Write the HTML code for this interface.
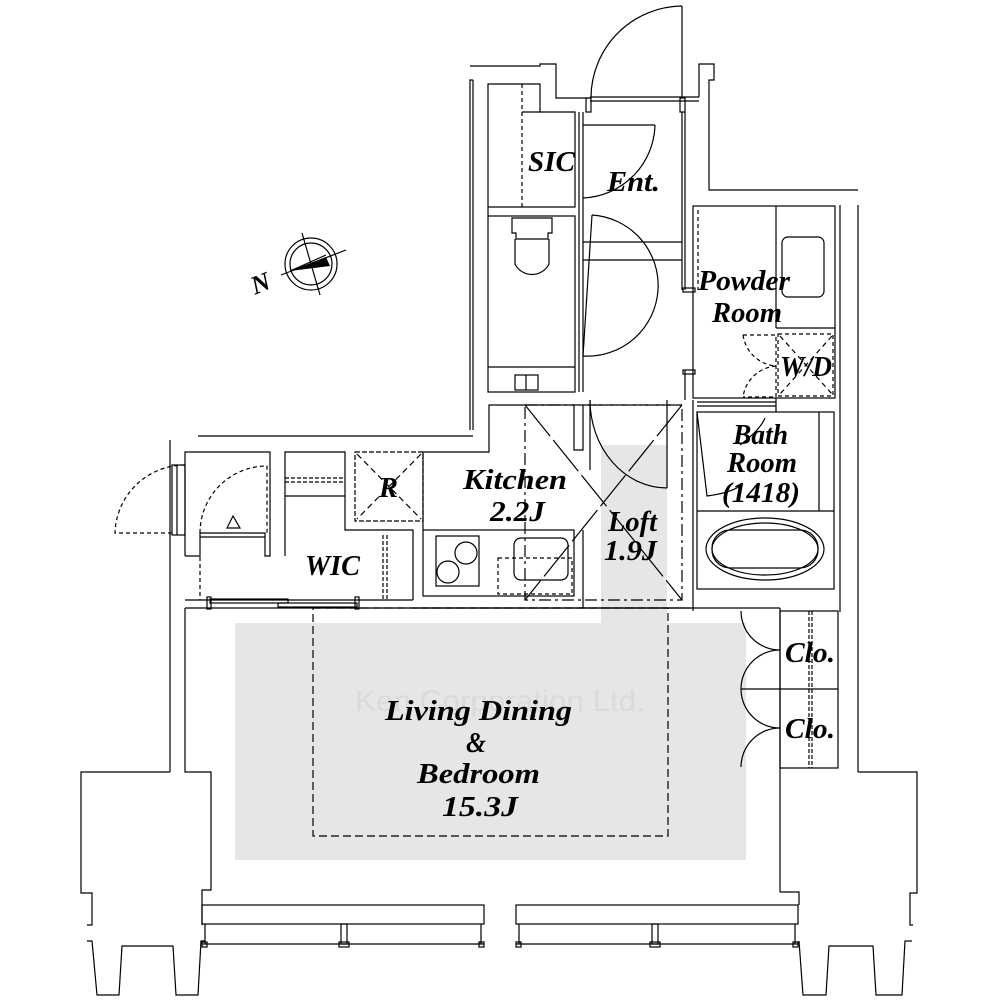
<!DOCTYPE html>
<html><head><meta charset="utf-8"><style>
html,body{margin:0;padding:0;background:#fff;width:1000px;height:1000px;overflow:hidden}
svg{display:block}
text{font-family:"Liberation Serif",serif;font-weight:bold;font-style:italic;fill:#000}
</style></head><body>
<svg width="1000" height="1000" viewBox="0 0 1000 1000" xmlns="http://www.w3.org/2000/svg">
<rect x="235" y="623" width="511" height="237" fill="#e6e6e6"/>
<rect x="601" y="445" width="66" height="180" fill="#e6e6e6"/>
<g fill="none" stroke="#000" stroke-width="1.2">
<polyline points="470,66 540,66 540,64 556,64 556,98 590,98"/>
<line x1="590" y1="97" x2="699" y2="97"/>
<line x1="590" y1="101" x2="699" y2="101"/>
<rect x="586" y="98" width="5" height="14"/><rect x="680" y="98" width="5" height="14"/>
<line x1="682" y1="6" x2="682" y2="97"/>
<path d="M591,97 A92,92 0 0 1 682,6"/>
<polyline points="699,97 699,64 714,64 714,80 709,80 709,190 858,190"/>
<polyline points="473,80 470,80 470,430"/>
<line x1="473" y1="80" x2="473" y2="430"/>
<line x1="858" y1="205" x2="858" y2="772"/>
<line x1="840" y1="205" x2="840" y2="612"/>
<polyline points="488,216 488,84 540,84 540,112 575,112 575,207 488,207"/>
<line x1="522" y1="84" x2="522" y2="207" stroke-dasharray="4,3"/>
<line x1="522" y1="112" x2="540" y2="112"/>
<line x1="583" y1="112" x2="583" y2="392"/>
<line x1="579" y1="112" x2="579" y2="392"/>
<line x1="682" y1="112" x2="682" y2="290"/>
<line x1="685" y1="112" x2="685" y2="290"/>
<line x1="685" y1="370" x2="685" y2="400"/>
<line x1="583" y1="125" x2="655" y2="125"/>
<path d="M655,125 A75,75 0 0 1 583,198"/>
<line x1="583" y1="242" x2="682" y2="242"/>
<line x1="583" y1="260" x2="682" y2="260"/>
<line x1="592" y1="215" x2="583" y2="356"/>
<path d="M592,215 A70,70 0 0 1 583,356"/>
<rect x="488" y="216" width="87" height="176"/>
<line x1="488" y1="367" x2="575" y2="367"/>
<rect x="515" y="375" width="23" height="15"/><line x1="526" y1="375" x2="526" y2="390"/>
<path d="M512,218 h40 v15 h-4 v6 h-32 v-6 h-4 z"/>
<path d="M515,239 v25 a19,19 0 0 0 34,0 v-25"/>
<rect x="693" y="206" width="142" height="192"/>
<line x1="776" y1="206" x2="776" y2="328"/>
<line x1="776" y1="328" x2="835" y2="328"/>
<rect x="782" y="237" width="42" height="60" rx="6"/>
<line x1="698" y1="210" x2="698" y2="290" stroke-dasharray="4,3"/>
<rect x="778" y="334" width="55" height="62" stroke-dasharray="4,3"/>
<line x1="780" y1="336" x2="832" y2="394" stroke-dasharray="5,4"/>
<line x1="832" y1="336" x2="780" y2="394" stroke-dasharray="5,4"/>
<path d="M743,335 h33 v62 h-33 M743,335 A36,36 0 0 0 776,366 A36,36 0 0 0 743,397" stroke-dasharray="4,3"/>
<rect x="683" y="288" width="12" height="4"/><rect x="683" y="370" width="12" height="4"/>
<rect x="697" y="412" width="137" height="177"/>
<line x1="697" y1="511" x2="834" y2="511"/>
<line x1="819" y1="412" x2="819" y2="511"/>
<line x1="697" y1="402" x2="776" y2="402"/><line x1="697" y1="406" x2="776" y2="406"/>
<line x1="776" y1="398" x2="776" y2="412"/>
<path d="M697,412 L707,496 Q730,493 740,486"/>
<path d="M740,445 Q760,430 765,418"/>
<ellipse cx="765" cy="549" rx="59" ry="31"/>
<ellipse cx="765" cy="549" rx="53" ry="26"/>
<rect x="712" y="530" width="106" height="38" rx="18"/>
<polyline points="423,452 489,452 489,405 574,405 574,450 583,450 583,405"/>
<line x1="583" y1="405" x2="682" y2="405" stroke-dasharray="12,4,3,4"/>
<rect x="525" y="405" width="157" height="195" stroke-dasharray="12,4,3,4"/>
<line x1="525" y1="405" x2="682" y2="600" stroke-dasharray="40,5"/>
<line x1="682" y1="405" x2="525" y2="600" stroke-dasharray="40,5"/>
<path d="M590,400 A77,88 0 0 0 667,488"/>
<line x1="667" y1="400" x2="667" y2="488"/>
<line x1="590" y1="400" x2="590" y2="470"/>
<rect x="423" y="530" width="151" height="66"/>
<line x1="583" y1="530" x2="583" y2="608"/>
<rect x="436" y="536" width="43" height="50"/>
<circle cx="466" cy="553" r="11"/><circle cx="448" cy="572" r="11"/>
<rect x="514" y="538" width="54" height="42" rx="7"/>
<rect x="498" y="558" width="74" height="36" stroke-dasharray="4,3"/>
<line x1="413" y1="608" x2="690" y2="608"/>
<line x1="693" y1="400" x2="693" y2="611"/>
<line x1="198" y1="436" x2="473" y2="436"/>
<line x1="170" y1="440" x2="170" y2="772"/>
<rect x="172" y="465" width="13" height="70"/><line x1="177" y1="465" x2="177" y2="535"/>
<path d="M185,465 A70,70 0 0 0 115,533 L172,533" stroke-dasharray="4,3"/>
<polyline points="185,556 185,452 270,452 270,556 265,556 265,533 200,533 200,556 185,556"/>
<line x1="200" y1="537" x2="265" y2="537"/>
<path d="M200,533 A67,67 0 0 1 267,466 L267,533" stroke-dasharray="4,3"/>
<path d="M227,528 L233,516 L240,528 Z"/>
<polyline points="285,556 285,452 345,452 345,530 413,530 413,600"/>
<line x1="285" y1="496" x2="345" y2="496"/>
<line x1="285" y1="478" x2="345" y2="478" stroke-dasharray="4,2"/><line x1="285" y1="482" x2="345" y2="482" stroke-dasharray="4,2"/>
<rect x="355" y="452" width="68" height="69" stroke-dasharray="5,2"/>
<line x1="357" y1="454" x2="421" y2="519" stroke-dasharray="6,4"/><line x1="421" y1="454" x2="357" y2="519" stroke-dasharray="6,4"/>
<line x1="423" y1="452" x2="423" y2="530"/>
<line x1="383" y1="535" x2="383" y2="600" stroke-dasharray="4,2"/><line x1="387" y1="535" x2="387" y2="600" stroke-dasharray="4,2"/>
<line x1="200" y1="557" x2="200" y2="600" stroke-dasharray="4,3"/>
<line x1="185" y1="600" x2="413" y2="600"/>
<rect x="210" y="599" width="78" height="4"/><rect x="278" y="603" width="79" height="4"/>
<rect x="207" y="597" width="4" height="12"/><rect x="355" y="597" width="4" height="12"/>
<line x1="185" y1="608" x2="780" y2="608"/>
<polyline points="185,608 185,772 211,772 211,890 202,890 202,925"/>
<polyline points="170,772 81,772 81,893 92,893 92,925 87,925"/>
<rect x="313" y="608" width="355" height="228" stroke-dasharray="8,4"/>
<line x1="780" y1="608" x2="780" y2="892"/>
<polyline points="780,892 799,892 799,905"/>
<polyline points="858,772 917,772 917,893 910,893 910,925 913,925"/>
<rect x="780" y="611" width="58" height="157"/>
<line x1="780" y1="689" x2="838" y2="689"/>
<line x1="809" y1="611" x2="809" y2="768" stroke-dasharray="4,2"/><line x1="812" y1="611" x2="812" y2="768" stroke-dasharray="4,2"/>
<line x1="741" y1="689" x2="780" y2="689"/>
<path d="M741,611 A39,39 0 0 0 780,650 A39,39 0 0 0 741,689 A39,39 0 0 0 780,728 A39,39 0 0 0 741,767"/>
<rect x="202" y="905" width="282" height="19"/>
<rect x="516" y="905" width="282" height="19"/>
<line x1="202" y1="944" x2="484" y2="944"/><line x1="516" y1="944" x2="798" y2="944"/>
<line x1="205" y1="924" x2="205" y2="944"/><line x1="481" y1="924" x2="481" y2="944"/>
<line x1="519" y1="924" x2="519" y2="944"/><line x1="795" y1="924" x2="795" y2="944"/>
<rect x="341" y="924" width="6" height="20"/><rect x="652" y="924" width="6" height="20"/>
<rect x="339" y="942" width="10" height="5"/><rect x="650" y="942" width="10" height="5"/>
<rect x="202" y="942" width="5" height="5"/><rect x="479" y="942" width="5" height="5"/>
<rect x="516" y="942" width="5" height="5"/><rect x="793" y="942" width="5" height="5"/>
<polyline points="87,941 92,941 97,995 119,995 122,946 173,946 176,995 198,995 201,941 205,941"/>
<polyline points="799,941 803,995 826,995 829,946 873,946 876,995 902,995 905,941 912,941"/>
<circle cx="311" cy="264" r="26"/><circle cx="311" cy="264" r="21"/>
<line x1="281" y1="275" x2="346" y2="250"/>
<line x1="302" y1="233" x2="320" y2="295"/>
<line x1="290" y1="271" x2="326" y2="255"/>
</g>
<path d="M290,271 L326,257 L330,266 Z" fill="#000"/>
<text x="250" y="291" font-size="26" transform="rotate(-22 262 280)" font-style="normal">N</text>
<text x="355" y="711" font-size="30" textLength="290" lengthAdjust="spacingAndGlyphs" style="fill:#dadada;font-weight:normal;font-style:normal;font-family:'Liberation Sans',sans-serif">Ken Corporation Ltd.</text>
<g font-size="29" lengthAdjust="spacingAndGlyphs">
<text x="528" y="171" textLength="47" lengthAdjust="spacingAndGlyphs">SIC</text>
<text x="607" y="191" textLength="53" lengthAdjust="spacingAndGlyphs">Ent.</text>
<text x="698" y="290" textLength="92" lengthAdjust="spacingAndGlyphs">Powder</text>
<text x="712" y="322" textLength="70" lengthAdjust="spacingAndGlyphs">Room</text>
<text x="780" y="376" textLength="52" lengthAdjust="spacingAndGlyphs">W/D</text>
<text x="733" y="444" textLength="55" lengthAdjust="spacingAndGlyphs">Bath</text>
<text x="727" y="472" textLength="70" lengthAdjust="spacingAndGlyphs">Room</text>
<text x="722" y="502" textLength="78" lengthAdjust="spacingAndGlyphs">(1418)</text>
<text x="463" y="489" textLength="104" lengthAdjust="spacingAndGlyphs">Kitchen</text>
<text x="490" y="521" textLength="55" lengthAdjust="spacingAndGlyphs">2.2J</text>
<text x="379" y="497" textLength="19" lengthAdjust="spacingAndGlyphs">R</text>
<text x="608" y="531" textLength="49" lengthAdjust="spacingAndGlyphs">Loft</text>
<text x="604" y="560" textLength="53" lengthAdjust="spacingAndGlyphs">1.9J</text>
<text x="305" y="575" textLength="55" lengthAdjust="spacingAndGlyphs">WIC</text>
<text x="785" y="662" textLength="50" lengthAdjust="spacingAndGlyphs">Clo.</text>
<text x="785" y="738" textLength="50" lengthAdjust="spacingAndGlyphs">Clo.</text>
<text x="385" y="720" textLength="187" lengthAdjust="spacingAndGlyphs">Living Dining</text>
<text x="466" y="752" textLength="20" lengthAdjust="spacingAndGlyphs">&amp;</text>
<text x="417" y="783" textLength="123" lengthAdjust="spacingAndGlyphs">Bedroom</text>
<text x="442" y="816" textLength="76" lengthAdjust="spacingAndGlyphs">15.3J</text>
</g>
</svg>
</body></html>
